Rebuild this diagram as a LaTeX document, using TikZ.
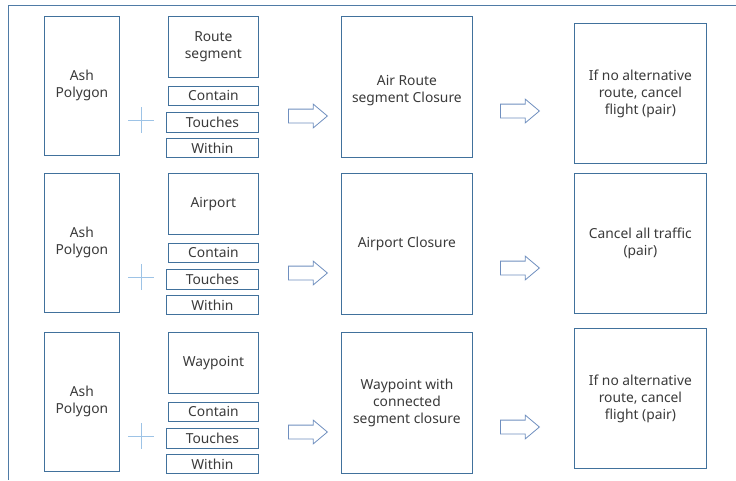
\documentclass[tikz,border=0pt]{standalone}
\usepackage{fontspec}
\setmainfont{Noto Sans}
\usetikzlibrary{shapes.arrows}
\definecolor{boxLine}{HTML}{41719C}
\definecolor{arrowLine}{HTML}{6F8FBF}
\definecolor{plusLine}{HTML}{9DC3E6}
\definecolor{frameLine}{HTML}{4F7BA6}
\definecolor{ink}{HTML}{3A3A3A}
\newcommand{\DiagFont}{\fontsize{13.8}{17}\selectfont}
\tikzset{
  step box/.style args={#1x#2}{
    draw=boxLine, line width=0.8pt, fill=white, anchor=north west,
    minimum width=#1, minimum height=#2, inner sep=0pt,
    align=center, font=\DiagFont, text=ink
  },
  block arrow/.style={
    shape=single arrow, draw=arrowLine, line width=0.8pt, fill=white,
    minimum height=39pt, inner xsep=0pt, inner ysep=6.5pt, anchor=tail,
    single arrow head extend=5pt, single arrow tip angle=80
  },
  plus sign/.style={plusLine, line width=0.9pt},
}
\begin{document}
\begin{tikzpicture}[x=1pt,y=-1pt]
  \useasboundingbox (0,0) rectangle (736,480);

  % Outer frame (only top and left edges show)
  \draw[frameLine,line width=0.8pt] (736,5) -- (8.5,5) -- (8.5,480);

  % One row per feature type: ash polygon + feature + relation -> closure -> action
  \foreach \i/\t/\rt/\obj/\mid/\res in {%
    1/16/23/{Route\\segment}/{\mbox{}\\Air Route\\segment Closure}/{If no alternative\\route, cancel\\flight (pair)},%
    2/173/173/{Airport}/{Airport Closure}/{Cancel all traffic\\(pair)},%
    3/332/328/{Waypoint}/{Waypoint with\\connected\\segment closure}/{If no alternative\\route, cancel\\flight (pair)}%
  } {
    \node[step box=75ptx139pt] (ash\i) at (44,\t) {Ash\\Polygon};
    \node[step box=90ptx61pt] (obj\i) at (168,\t) {\obj};
    \node[step box=90ptx19pt] (contain\i) at (168,\t+70) {Contain};
    \node[step box=92ptx20pt] (touches\i) at (166,\t+96) {Touches};
    \node[step box=92ptx19pt] (within\i) at (166,\t+122) {Within};
    % plus sign
    \coordinate (plus\i) at (141,\t+104);
    \draw[plus sign] (plus\i) ++(-13,0) -- ++(26,0);
    \draw[plus sign] (plus\i) ++(0,-13) -- ++(0,26);
    \node[block arrow] (arrA\i) at (288,\t+100) {};
    \node[step box=131ptx141pt] (mid\i) at (341,\t) {\mid};
    \node[block arrow] (arrB\i) at (500,\t+95) {};
    \node[step box=132ptx140pt] (res\i) at (574,\rt) {\res};
  }
\end{tikzpicture}
\end{document}
